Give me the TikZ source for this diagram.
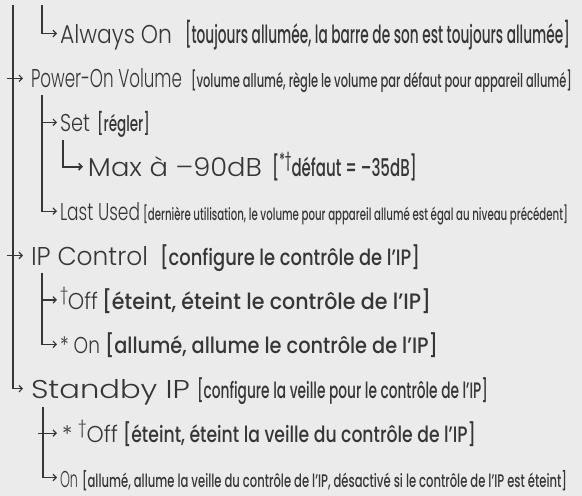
\documentclass[tikz,border=0pt]{standalone}
\usepackage{fontspec}
\setmainfont{Poppins}
\newfontfamily\lt{Poppins}[UprightFont=* Light]
\newfontfamily\md{Poppins}[UprightFont=* Medium]
\usetikzlibrary{arrows.meta}
\definecolor{bg}{HTML}{EBEBEB}
\definecolor{ink}{HTML}{363636}
\newsavebox\fitA
\newsavebox\fitB
% width, height of refchar, font, refchar, text
\newcommand\fitt[5]{\sbox\fitA{#3#5}\sbox\fitB{#3#4}%
  \pgfmathsetmacro\fsx{#1/\the\wd\fitA}%
  \pgfmathsetmacro\fsy{#2/\the\ht\fitB}%
  \scalebox{\fsx}[\fsy]{\usebox\fitA}}
\newcommand\mainlbl[3]{\fitt{#1}{#2}{\lt}{H}{#3}}
\newcommand\brlbl[3]{\fitt{#1}{#2}{\md}{l}{#3}}
\newcommand\supr[1]{\raisebox{.38em}{\fontsize{7.5}{7.5}\selectfont #1}}
\begin{document}
\begin{tikzpicture}[x=1pt,y=-1pt,
  lbl/.style={anchor=base west,inner sep=0pt,outer sep=0pt,text=ink},
  tree/.style={draw=ink,line width=1.2pt},
  arr/.style={tree,-{Straight Barb[length=3.2pt,width=6.5pt]}}]
\fill[bg] (0,0) rectangle (582,496);
\useasboundingbox (0,0) rectangle (582,496);
% labels
\node[lbl] (a1) at (60,43) {\mainlbl{112}{18}{Always On}};
\node[lbl] (b1) at (185,43) {\brlbl{385}{18.5}{[toujours allumée, la barre de son est toujours allumée]}};
\node[lbl] (a2) at (31,87.8) {\mainlbl{151}{18}{Power-On Volume}};
\node[lbl] (b2) at (191,87.8) {\brlbl{381}{14}{[volume allumé, règle le volume par défaut pour appareil allumé]}};
\node[lbl] (a3) at (60,131.8) {\mainlbl{30}{17}{Set}};
\node[lbl] (b3) at (97,131.8) {\brlbl{53}{16}{[régler]}};
\node[lbl] (a4) at (88,176.2) {\mainlbl{174}{18}{Max à –90dB}};
\node[lbl] (b4) at (272,176.2) {\brlbl{145}{18}{[\supr{*}\supr{†}défaut = –35dB]}};
\node[lbl] (a5) at (60,220.6) {\mainlbl{80}{17}{Last Used}};
\node[lbl] (b5) at (143,220.6) {\brlbl{425}{12.5}{[dernière utilisation, le volume pour appareil allumé est égal au niveau précédent]}};
\node[lbl] (a6) at (31,265) {\mainlbl{117}{18}{IP Control}};
\node[lbl] (b6) at (160,265) {\brlbl{260}{16.5}{[configure le contrôle de l’IP]}};
\node[lbl] (a7) at (60,309.4) {\mainlbl{38}{16}{\supr{†}Off}};
\node[lbl] (b7) at (102,309.4) {\brlbl{329}{16.5}{[éteint, éteint le contrôle de l’IP]}};
\node[lbl] (a8) at (60,353.8) {\mainlbl{40}{16}{* On}};
\node[lbl] (b8) at (105,353.8) {\brlbl{333}{16.5}{[allumé, allume le contrôle de l’IP]}};
\node[lbl] (a9) at (31,398.2) {\mainlbl{159}{18}{Standby IP}};
\node[lbl] (b9) at (197,398.2) {\brlbl{291}{16.5}{[configure la veille pour le contrôle de l’IP]}};
\node[lbl] (a10) at (62,442.6) {\mainlbl{56}{16}{* \supr{†}Off}};
\node[lbl] (b10) at (123,442.6) {\brlbl{353}{16.5}{[éteint, éteint la veille du contrôle de l’IP]}};
\node[lbl] (a11) at (60,487) {\mainlbl{18}{16}{On}};
\node[lbl] (b11) at (82,487) {\brlbl{485}{13.5}{[allumé, allume la veille du contrôle de l’IP, désactivé si le contrôle de l’IP est éteint]}};
% tree coordinates
\coordinate (mtop) at (13,5);
\coordinate (h1) at (42,5);
\coordinate (h3) at (42,95);
\coordinate (h4) at (63,140);
\coordinate (h7) at (42,273);
\coordinate (h10) at (43,407);
\coordinate (t2) at (7,78.3);
\coordinate (t6) at (7,255.5);
\coordinate (t10) at (38,433.1);
\coordinate (s3) at (42,122.3);
\coordinate (s7) at (42,299.9);
% connectors
\draw[arr] (mtop) |- ([xshift=-8pt,yshift=9.5pt]a9.base west);
\draw[arr] (t2) -- ([xshift=-8pt,yshift=9.5pt]a2.base west);
\draw[arr] (t6) -- ([xshift=-8pt,yshift=9.5pt]a6.base west);
\draw[arr] (h1) |- ([xshift=-3pt,yshift=9.5pt]a1.base west);
\draw[arr] (h3) |- ([xshift=-3pt,yshift=9.5pt]a5.base west);
\draw[arr] (s3) -- ([xshift=-3pt,yshift=9.5pt]a3.base west);
\draw[arr,line width=1.6pt] (h4) |- ([xshift=-5pt,yshift=9.5pt]a4.base west);
\draw[arr] (h7) |- ([xshift=-3pt,yshift=9.5pt]a8.base west);
\draw[arr] (s7) -- ([xshift=-3pt,yshift=9.5pt]a7.base west);
\draw[arr] (h10) |- ([xshift=-3pt,yshift=9.5pt]a11.base west);
\draw[arr] (t10) -- ([xshift=-5pt,yshift=9.5pt]a10.base west);
\end{tikzpicture}
\end{document}
